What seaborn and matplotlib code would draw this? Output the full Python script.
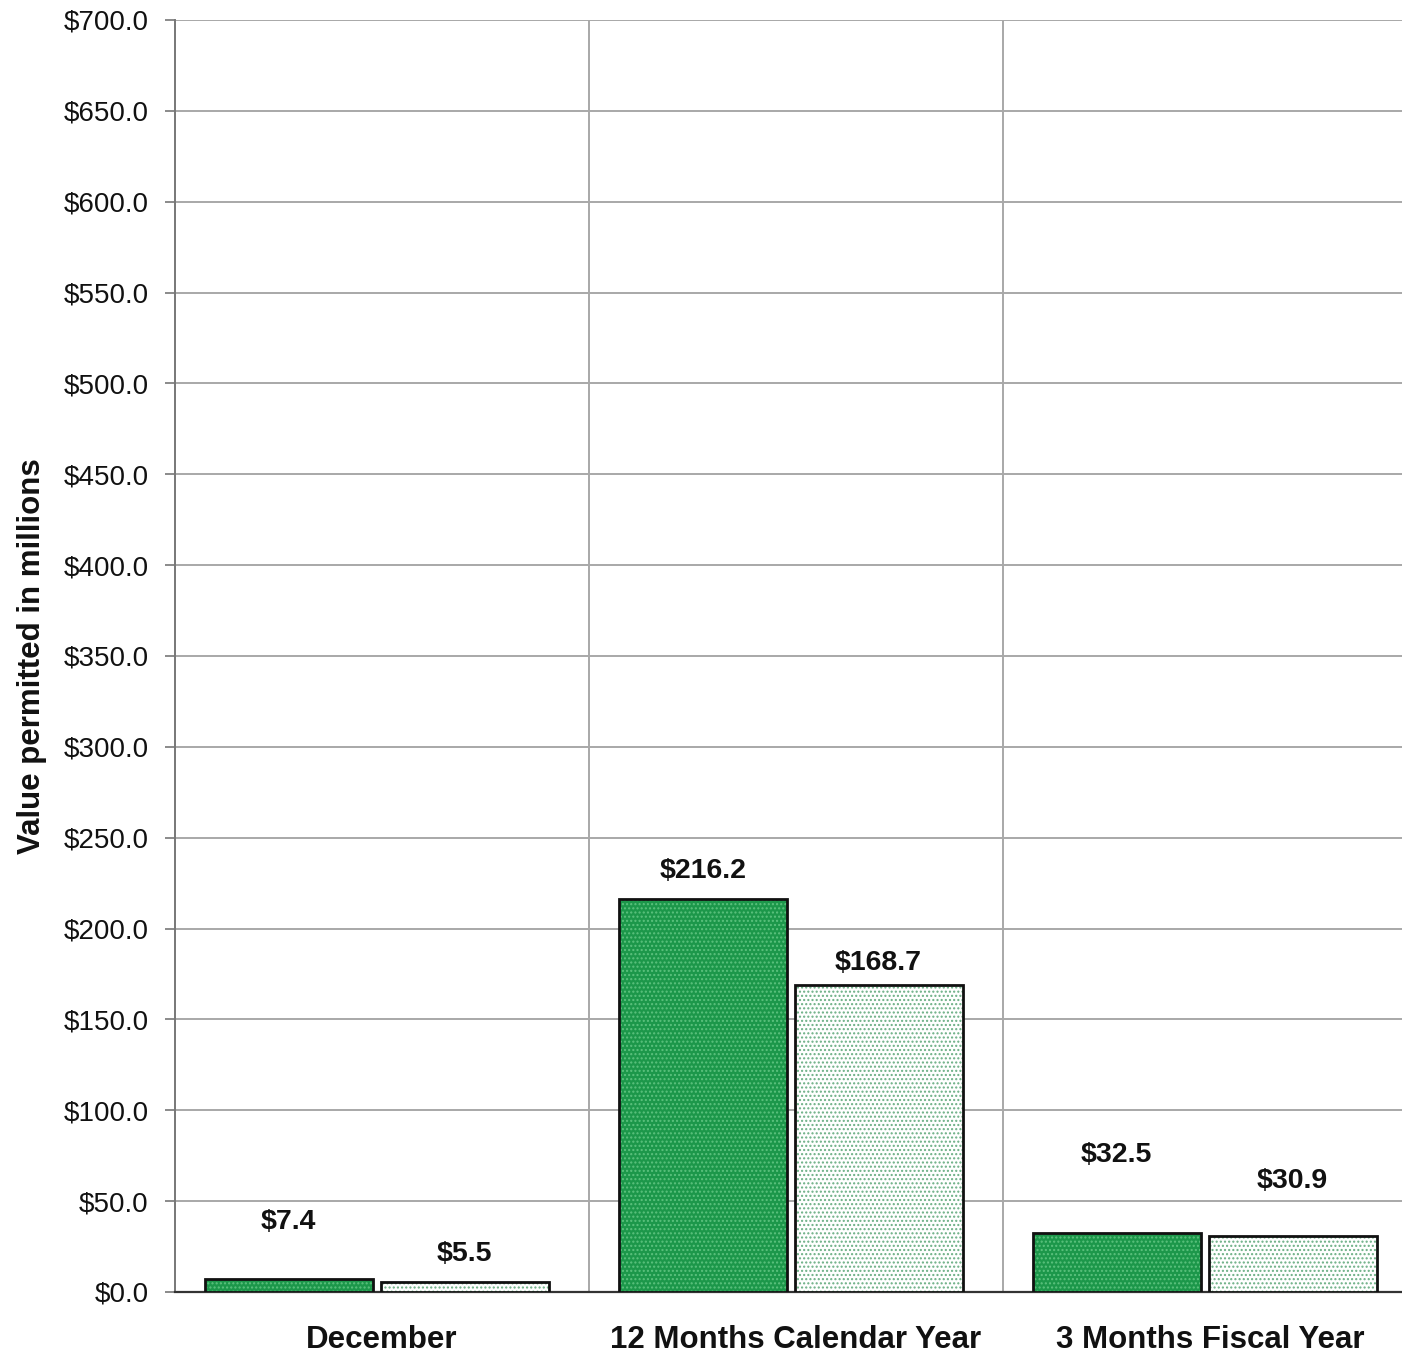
import pandas as pd
import matplotlib.pyplot as plt
import seaborn as sns
from matplotlib.patches import Rectangle
from matplotlib.ticker import FuncFormatter, MultipleLocator

# Chart data
periods = ['December', '12 Months Calendar Year', '3 Months Fiscal Year']
series = ['Current', 'Prior']
current_values = [7.4, 216.2, 32.5]
prior_values = [5.5, 168.7, 30.9]

# label offsets above bar tops (pixels), as placed in the original
label_offsets = {'Current': [57, 28, 78], 'Prior': [28, 22, 55]}

df = pd.DataFrame({
    'period': periods * 2,
    'series': ['Current'] * 3 + ['Prior'] * 3,
    'value': current_values + prior_values,
})

sns.set_style('white')
plt.rcParams['font.family'] = ['Liberation Sans', 'DejaVu Sans']
plt.rcParams['hatch.linewidth'] = 1.0

fig = plt.figure(figsize=(14.02, 13.55), dpi=100)
ax = fig.add_axes([175 / 1402, 1 - 1292 / 1355, 1242 / 1402, 1272 / 1355])

fills = {'Current': '#1c974a', 'Prior': '#ffffff'}
hatch_colors = {'Current': '#5cc27e', 'Prior': '#6aae83'}

sns.barplot(data=df, x='period', y='value', hue='series', order=periods,
            hue_order=series, palette=fills, width=0.85, gap=0.045,
            saturation=1, legend=False, ax=ax, zorder=3)

# bars are drawn per hue level: first Current then Prior
for i, patch in enumerate(ax.patches[:6]):
    s = series[i // 3]
    patch.set_x(patch.get_x() - 0.013)
    patch.set_hatch('....')
    patch.set_edgecolor(hatch_colors[s])
    patch.set_linewidth(0)
    ax.add_patch(Rectangle(patch.get_xy(), patch.get_width(), patch.get_height(),
                           fill=False, edgecolor='#111111', linewidth=2.0, zorder=4))
    val = patch.get_height()
    off = label_offsets[s][i % 3] * 0.72
    ax.annotate(f'${val:.1f}', (patch.get_x() + patch.get_width() / 2, val),
                xytext=(0, off), textcoords='offset points', ha='center', va='center',
                fontsize=20.5, fontweight='bold', color='#111111', zorder=5)

ax.set_xlim(-0.5, 2.5)
ax.set_ylim(0, 700)
ax.yaxis.set_major_locator(MultipleLocator(50))
ax.yaxis.set_major_formatter(FuncFormatter(lambda v, p: f'${v:.1f}'))
ax.set_xticks([0.5, 1.5], minor=True)

ax.grid(axis='y', which='major', color='#a8a8a8', linewidth=1.4, zorder=0)
ax.grid(axis='x', which='minor', color='#a8a8a8', linewidth=1.4, zorder=0)
ax.set_axisbelow(True)

for side in ['top', 'right']:
    ax.spines[side].set_visible(False)
ax.spines['left'].set_color('#777777')
ax.spines['left'].set_linewidth(1.4)
ax.spines['bottom'].set_color('#333333')
ax.spines['bottom'].set_linewidth(1.6)

ax.tick_params(axis='y', which='major', left=True, length=7, width=1.2, color='#777777',
               pad=12, labelsize=20, labelcolor='#111111')
ax.tick_params(axis='x', which='both', bottom=False, length=0, pad=24, labelsize=22.5,
               labelcolor='#111111')
for lbl in ax.get_xticklabels():
    lbl.set_fontweight('bold')

ax.set_xlabel('')
ax.set_ylabel('Value permitted in millions', fontsize=22.5, fontweight='bold',
              color='#111111', labelpad=12)

fig.savefig('out.png', dpi=100)
